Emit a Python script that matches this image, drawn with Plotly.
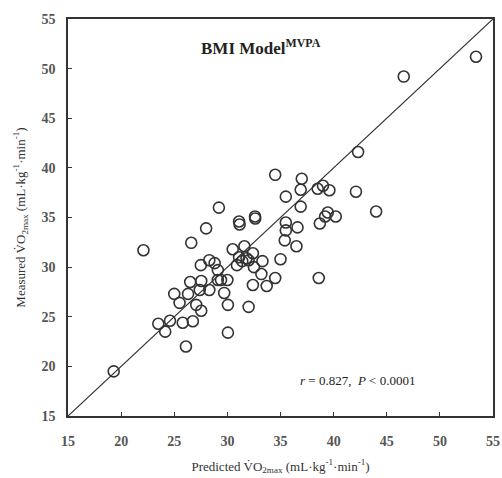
import plotly.graph_objects as go

predicted = [19.3, 22.1, 23.5, 24.15, 24.6, 25.0, 25.5, 25.8, 26.1, 26.3, 26.5, 26.6, 26.75,
             27.07, 27.5, 27.54, 27.54, 27.4, 28.3, 28.0, 28.3, 28.8, 29.1, 29.1, 29.2, 29.4,
             30.0, 29.7, 30.05, 30.05, 30.5, 30.9, 31.1, 31.15, 31.1, 31.6, 31.8, 32.0, 32.4,
             32.5, 32.4, 32.6, 32.62, 33.3, 33.2, 33.7, 34.5, 34.5, 35.0, 35.5, 35.5, 35.5,
             35.4, 36.6, 36.5, 36.9, 36.9, 37.0, 38.5, 39.0, 38.7, 38.6, 39.6, 39.45, 39.2,
             40.2, 42.1, 42.3, 44.0, 46.6, 53.4, 31.4, 32.0]
measured = [19.5, 31.7, 24.3, 23.5, 24.6, 27.3, 26.4, 24.4, 22.0, 27.3, 28.5, 32.45, 24.55,
            26.2, 30.2, 28.6, 25.6, 27.7, 27.7, 33.9, 30.7, 30.4, 29.7, 28.7, 36.0, 28.7,
            28.7, 27.4, 26.2, 23.4, 31.8, 30.2, 34.6, 34.3, 31.0, 32.1, 30.9, 26.0, 31.4,
            30.0, 28.2, 35.1, 34.9, 30.6, 29.3, 28.1, 39.3, 28.9, 30.8, 37.1, 34.5, 33.7,
            32.7, 34.0, 32.1, 36.1, 37.8, 38.9, 37.9, 38.2, 34.4, 28.9, 37.75, 35.5, 35.1,
            35.1, 37.6, 41.6, 35.6, 49.2, 51.2, 30.6, 30.7]

identity = [15, 55]
tick_vals = [15, 20, 25, 30, 35, 40, 45, 50, 55]

ink = "#333333"
font_family = "Liberation Serif, Times New Roman, serif"

fig = go.Figure()
fig.add_trace(go.Scatter(x=identity, y=identity, mode="lines",
                         line=dict(color=ink, width=1.2), hoverinfo="skip",
                         showlegend=False))
fig.add_trace(go.Scatter(x=predicted, y=measured, mode="markers",
                         marker=dict(symbol="circle-open", size=11,
                                     color=ink, line=dict(width=1.6, color=ink)),
                         showlegend=False))

fig.add_annotation(x=33.2, y=52.2, xref="x", yref="y", showarrow=False,
                   text="<b>BMI Model<sup>MVPA</sup></b>",
                   font=dict(family=font_family, size=17, color="#222222"))
fig.add_annotation(x=42.2, y=18.6, xref="x", yref="y", showarrow=False,
                   text="<i>r</i> = 0.827,  <i>P</i> < 0.0001",
                   font=dict(family=font_family, size=13, color="#222222"))

axis_common = dict(range=[15, 55], tickvals=tick_vals, ticks="inside", ticklen=4,
                   tickcolor=ink, showline=True, linecolor=ink, linewidth=1.5,
                   mirror=True, showgrid=False, zeroline=False, automargin=False,
                   ticklabeloverflow="allow",
                   tickfont=dict(family=font_family, size=14, color="#555555",
                                 weight="bold"))

fig.update_layout(
    width=502, height=478,
    margin=dict(l=68, r=9, t=19, b=62),
    paper_bgcolor="white", plot_bgcolor="white",
    xaxis=dict(**axis_common, ticklabelstandoff=11,
               title=dict(text="Predicted V\u0307O<sub>2max</sub> (mL\u00b7kg<sup>-1</sup>\u00b7min<sup>-1</sup>)",
                          font=dict(family=font_family, size=13, color="#333333"),
                          standoff=14)),
    yaxis=dict(**axis_common, ticklabelstandoff=8,
               title=dict(text="Measured V\u0307O<sub>2max</sub> (mL\u00b7kg<sup>-1</sup>\u00b7min<sup>-1</sup>)",
                          font=dict(family=font_family, size=13, color="#333333"),
                          standoff=13)),
)

fig.write_html("out.html",
               config={"displayModeBar": False},
               post_script="document.body.style.margin='0';document.body.style.overflow='hidden';")
